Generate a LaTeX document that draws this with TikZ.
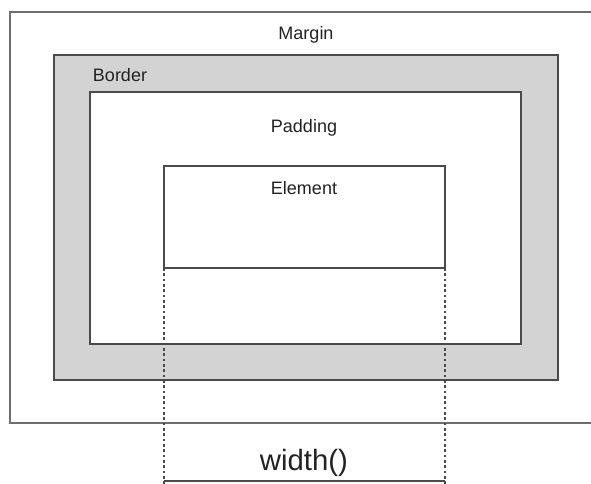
\documentclass[tikz,border=0pt]{standalone}
\usepackage{fontspec}
\setmainfont{Liberation Sans}
\usetikzlibrary{calc}
\definecolor{boxline}{HTML}{4A4A4A}
\definecolor{borderfill}{HTML}{D3D3D3}
\definecolor{labeltext}{HTML}{222222}
\tikzset{
	boxedge/.style={draw=boxline, line width=1.1pt},
	boxlabel/.style={text=labeltext, font=\fontsize{13.5}{15}\selectfont, inner sep=0pt},
	measureline/.style={draw=boxline, line width=0.8pt, dash pattern=on 2pt off 2pt}
}

\begin{document}
\begin{tikzpicture}[x=0.75pt, y=-0.75pt]
			%%%%% START %%%%%
			\useasboundingbox (0, 0) rectangle (591, 484);
			
			% margin
			\draw[draw=boxline!80, line width=1.1pt] (591, 12) -- (10, 12) -- (10, 423) -- (591, 423);
			\node[boxlabel] (marginlbl) at (306, 35) {Margin};
			
			% border
			\draw[boxedge, fill=borderfill] (54, 55) rectangle (558, 380);
			\node[boxlabel] (borderlbl) at (120, 75) {Border};
			
			% padding
			\draw[boxedge, fill=white] (90, 92) rectangle (521, 344);
			\node[boxlabel] (paddinglbl) at (304, 128) {Padding};
			
			% element
			\draw[boxedge, fill=white] (164, 166) rectangle (445, 268);
			\node[boxlabel] (elementlbl) at (304, 188) {Element};
			\coordinate (elemleft) at (164, 268);
			\coordinate (elemright) at (445, 268);
			
			% width()
			\coordinate (wleft) at (164, 484);
			\coordinate (wright) at (445, 484);
			\draw[measureline] (elemleft) -- (wleft);
			\draw[measureline] (elemright) -- (wright);
			\draw[boxedge] ($(wleft)+(0,-3)$) -- ($(wright)+(0,-3)$);
			\node[boxlabel, font=\fontsize{22}{24}\selectfont] (widthlbl) at (304, 463) {width()};
			
			%%%%% END %%%%%
		\end{tikzpicture}
\end{document}
